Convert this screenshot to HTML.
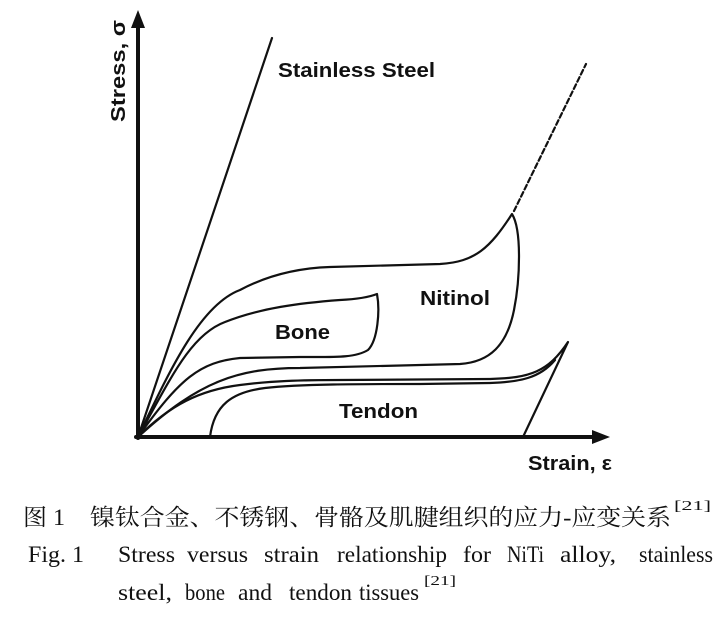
<!DOCTYPE html>
<html><head><meta charset="utf-8"><style>
html,body{margin:0;padding:0;background:#fff;}
svg{display:block;}
</style></head><body>
<svg width="728" height="623" viewBox="0 0 728 623" xmlns="http://www.w3.org/2000/svg">
<rect width="728" height="623" fill="#fff"/>
<g fill="none" stroke="#111" stroke-width="2.2" stroke-linecap="round" stroke-linejoin="round">
<line x1="138" y1="438" x2="138" y2="22" stroke-width="4"/>
<line x1="136" y1="437" x2="598" y2="437" stroke-width="4"/>
<line x1="138" y1="437" x2="272" y2="38"/>
<line x1="514" y1="211" x2="586" y2="64" stroke-dasharray="5,3"/>
<path d="M138,437 C170,370 200,305 240,290 C270,274 300,268 330,267 L440,264 C475,262 490,248 512,214 C522,230 520,280 514,310 C507,345 490,362 460,364 L300,368 C240,368 200,380 138,437"/>
<path d="M138,437 C170,380 190,335 225,322 C260,308 300,303 340,300 C360,299 372,296 377,294 C380,310 378,340 368,350 C355,358 335,357 300,357 L240,358 C200,362 180,378 138,437"/>
<path d="M138,437 C170,405 200,390 240,385 C270,381 300,380 340,380 L490,379 C530,378 548,372 568,342 L523,437"/>
<path d="M210,437 C214,405 232,392 265,388 C300,384 360,384 420,384 L490,383 C520,382 540,378 555,360"/>
</g>
<polygon points="138,10 131,28 145,28" fill="#111"/>
<polygon points="610,437 592,430 592,444" fill="#111"/>
<g font-family="'Liberation Sans', sans-serif" font-weight="bold" fill="#111" font-size="20">
<text x="278" y="77" textLength="157" lengthAdjust="spacingAndGlyphs">Stainless Steel</text>
<text x="420" y="305" textLength="70" lengthAdjust="spacingAndGlyphs">Nitinol</text>
<text x="275" y="339" textLength="55" lengthAdjust="spacingAndGlyphs">Bone</text>
<text x="339" y="418" textLength="79" lengthAdjust="spacingAndGlyphs">Tendon</text>
<text x="528" y="470" textLength="84" lengthAdjust="spacingAndGlyphs">Strain, ε</text>
<text transform="translate(125,122) rotate(-90)" x="0" y="0" textLength="102" lengthAdjust="spacingAndGlyphs">Stress, σ</text>
</g>
<g font-family="'Liberation Serif', 'Noto Serif CJK SC', serif" fill="#111" font-size="23" lengthAdjust="spacingAndGlyphs">
<text x="23" y="525" textLength="42" lengthAdjust="spacingAndGlyphs">图 1</text>
<text x="90" y="525" textLength="581" lengthAdjust="spacingAndGlyphs">镍钛合金、不锈钢、骨骼及肌腱组织的应力-应变关系</text>
<text x="674" y="510" font-size="14" textLength="37" lengthAdjust="spacingAndGlyphs">[21]</text>
<text x="28" y="562" textLength="56" lengthAdjust="spacingAndGlyphs">Fig. 1</text>
<text x="118" y="562" textLength="57" lengthAdjust="spacingAndGlyphs">Stress</text>
<text x="187" y="562" textLength="61" lengthAdjust="spacingAndGlyphs">versus</text>
<text x="264" y="562" textLength="55" lengthAdjust="spacingAndGlyphs">strain</text>
<text x="337" y="562" textLength="110" lengthAdjust="spacingAndGlyphs">relationship</text>
<text x="463" y="562" textLength="28" lengthAdjust="spacingAndGlyphs">for</text>
<text x="507" y="562" textLength="37" lengthAdjust="spacingAndGlyphs">NiTi</text>
<text x="560" y="562" textLength="56" lengthAdjust="spacingAndGlyphs">alloy,</text>
<text x="639" y="562" textLength="74" lengthAdjust="spacingAndGlyphs">stainless</text>
<text x="118" y="600" textLength="54" lengthAdjust="spacingAndGlyphs">steel,</text>
<text x="185" y="600" textLength="40" lengthAdjust="spacingAndGlyphs">bone</text>
<text x="238" y="600" textLength="34" lengthAdjust="spacingAndGlyphs">and</text>
<text x="289" y="600" textLength="63" lengthAdjust="spacingAndGlyphs">tendon</text>
<text x="359" y="600" textLength="60" lengthAdjust="spacingAndGlyphs">tissues</text>
<text x="424" y="585" font-size="14" textLength="32" lengthAdjust="spacingAndGlyphs">[21]</text>
</g>
</svg>
</body></html>
